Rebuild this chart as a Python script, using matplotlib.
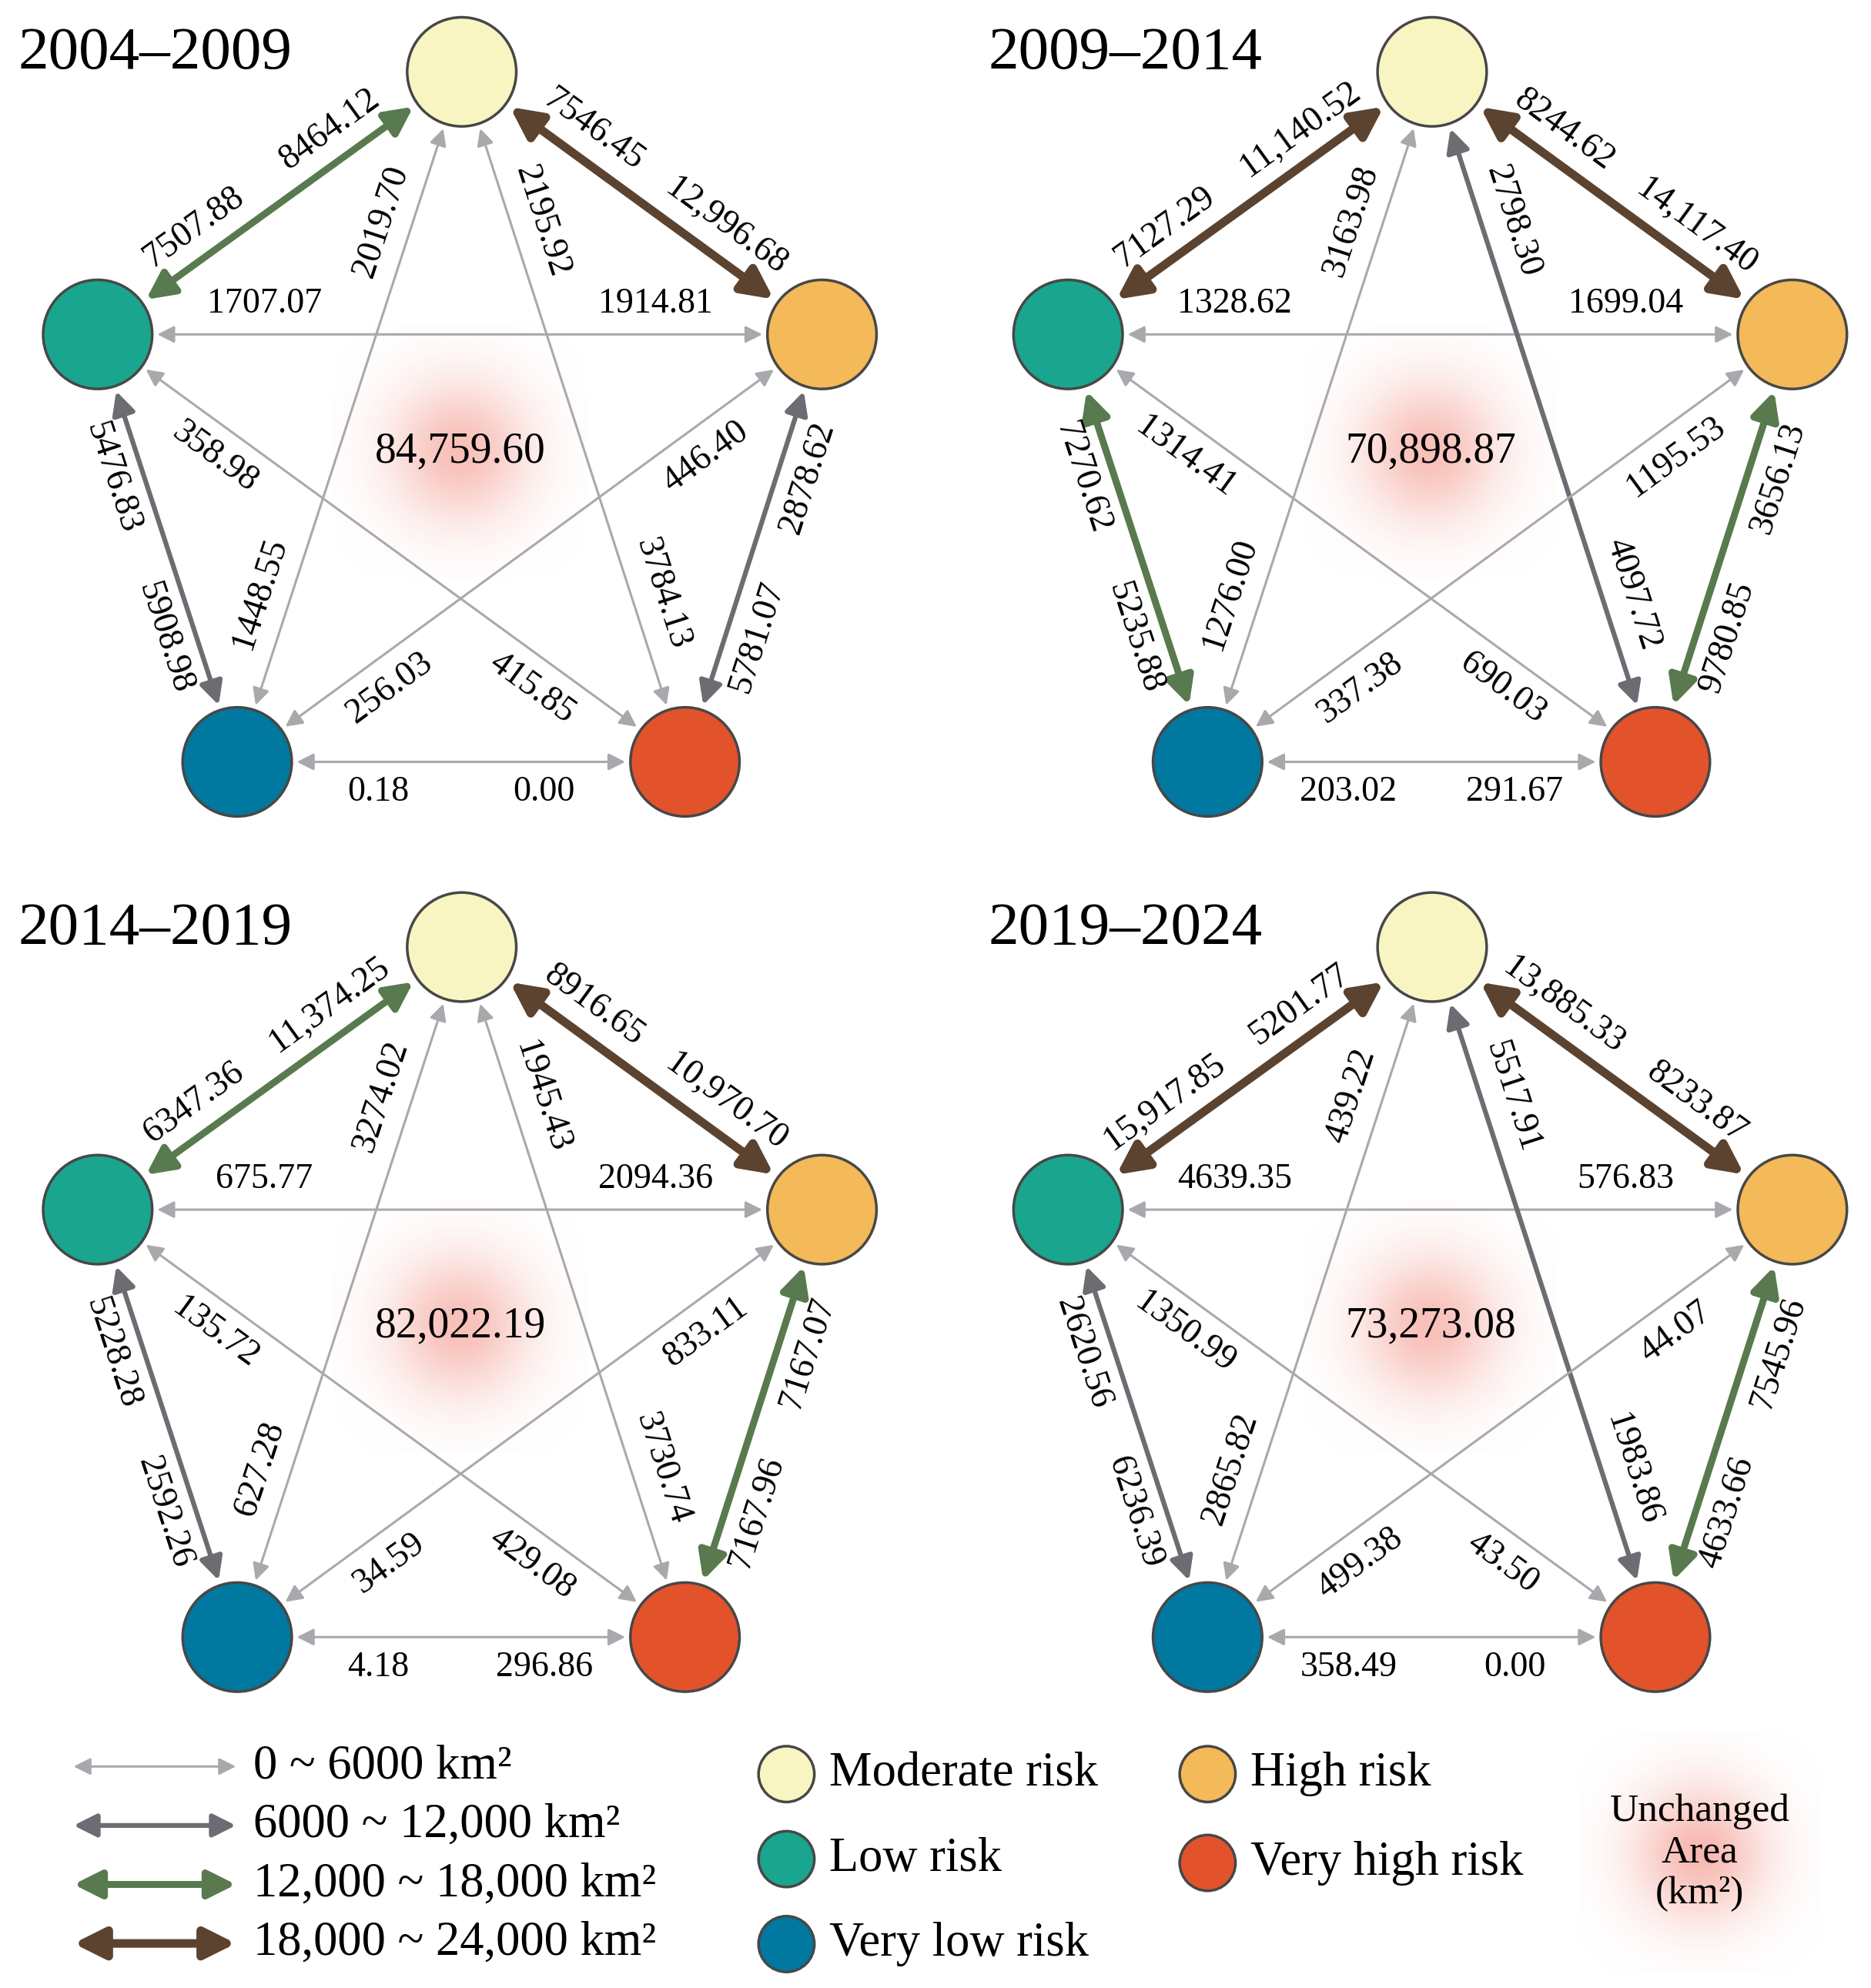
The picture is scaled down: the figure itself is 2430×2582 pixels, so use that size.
import math
import numpy as np
import matplotlib
matplotlib.use("Agg")
import matplotlib.pyplot as plt
from matplotlib.patches import Circle, FancyArrowPatch

plt.rcParams['font.family'] = ['Liberation Serif', 'DejaVu Serif']

periods = ["2004–2009", "2009–2014", "2014–2019", "2019–2024"]
unchanged = ["84,759.60", "70,898.87", "82,022.19", "73,273.08"]

# node pairs; first value sits near the first node, second near the second
pairs = [("low", "mod"), ("mod", "high"), ("low", "high"), ("low", "vlow"), ("high", "vh"),
         ("vlow", "vh"), ("mod", "vlow"), ("mod", "vh"), ("low", "vh"), ("high", "vlow")]
values = [
    [(7507.88, 8464.12), (7546.45, 12996.68), (1707.07, 1914.81), (5476.83, 5908.98), (2878.62, 5781.07),
     (0.18, 0.00), (2019.70, 1448.55), (2195.92, 3784.13), (358.98, 415.85), (446.40, 256.03)],
    [(7127.29, 11140.52), (8244.62, 14117.40), (1328.62, 1699.04), (7270.62, 5235.88), (3656.13, 9780.85),
     (203.02, 291.67), (3163.98, 1276.00), (2798.30, 4097.72), (1314.41, 690.03), (1195.53, 337.38)],
    [(6347.36, 11374.25), (8916.65, 10970.70), (675.77, 2094.36), (5228.28, 2592.26), (7167.07, 7167.96),
     (4.18, 296.86), (3274.02, 627.28), (1945.43, 3730.74), (135.72, 429.08), (833.11, 34.59)],
    [(15917.85, 5201.77), (13885.33, 8233.87), (4639.35, 576.83), (2620.56, 6236.39), (7545.96, 4633.66),
     (358.49, 0.00), (439.22, 2865.82), (5517.91, 1983.86), (1350.99, 43.50), (44.07, 499.38)],
]

node_pos = {"mod": (364, 56), "low": (77, 263), "high": (648, 263), "vlow": (187, 600), "vh": (540, 600)}
node_col = {"mod": "#f8f5c2", "low": "#1aa58f", "high": "#f4b958", "vlow": "#00789f", "vh": "#e2532c"}
offsets = [(0, 0), (765, 0), (0, 690), (765, 690)]
R = 43

# class styles: (color, linewidth, head scale)
styles = [("#a9a9ad", 2.2, 22), ("#6c6d73", 4.5, 30), ("#587a4e", 6.5, 36), ("#5b4330", 8.0, 40)]


def fmt(v):
    s = f"{v:,.2f}"
    if v < 10000:
        s = s.replace(",", "")
    return s


def style_for(total):
    return styles[min(int(total // 6000), 3)]


def glow(ax, cx, cy, rx, ry, strength=0.55):
    n = 200
    xs = np.linspace(-1, 1, n)
    X, Y = np.meshgrid(xs, xs)
    d = np.sqrt(X**2 + Y**2)
    a = np.clip(np.exp(-(d / 0.55) ** 2) * strength, 0, 1)
    img = np.zeros((n, n, 4))
    img[..., 0] = 0.95
    img[..., 1] = 0.55
    img[..., 2] = 0.50
    img[..., 3] = a
    ax.imshow(img, extent=(cx - rx, cx + rx, cy + ry, cy - ry), zorder=0, interpolation="bilinear")


def double_arrow(ax, p1, p2, st, gap=4):
    (x1, y1), (x2, y2) = p1, p2
    L = math.hypot(x2 - x1, y2 - y1)
    ux, uy = (x2 - x1) / L, (y2 - y1) / L
    a = (x1 + ux * (R + gap), y1 + uy * (R + gap))
    b = (x2 - ux * (R + gap), y2 - uy * (R + gap))
    col, lw, ms = st
    ax.add_patch(FancyArrowPatch(a, b, arrowstyle="<|-|>,head_length=0.6,head_width=0.3",
                                 mutation_scale=ms, color=col, lw=lw, zorder=2,
                                 shrinkA=0, shrinkB=0))


fig = plt.figure(figsize=(24.3, 25.82), dpi=100)
ax = fig.add_axes([0, 0, 1, 1])
ax.set_xlim(0, 1475)
ax.set_ylim(1566, 0)
ax.axis("off")

for k in range(4):
    ox, oy = offsets[k]
    P = {n: (x + ox, y + oy) for n, (x, y) in node_pos.items()}
    cx, cy = 364 + ox, 380 + oy
    glow(ax, cx - 2, cy - 25, 100, 100)
    ax.text(cx - 1, cy - 25, unchanged[k], fontsize=40, ha="center", va="center", zorder=5)
    ax.text(14 + ox, 42 + oy, periods[k], fontsize=57, ha="left", va="center", zorder=5)
    for (na, nb), (va, vb) in zip(pairs, values[k]):
        pa, pb = P[na], P[nb]
        double_arrow(ax, pa, pb, style_for(va + vb))
        dx, dy = pb[0] - pa[0], pb[1] - pa[1]
        L = math.hypot(dx, dy)
        nx, ny = -dy / L, dx / L
        mx, my = (pa[0] + pb[0]) / 2, (pa[1] + pb[1]) / 2
        if (cx - mx) * nx + (cy - my) * ny > 0:
            nx, ny = -nx, -ny
        ang = math.degrees(math.atan2(-dy, dx))
        if ang > 90:
            ang -= 180
        elif ang <= -90:
            ang += 180
        dist = max(0.23 * L, R + 68)
        for d, v in ((dist, va), (L - dist, vb)):
            tx = pa[0] + dx / L * d + nx * 24
            ty = pa[1] + dy / L * d + ny * 24
            ax.text(tx, ty, fmt(v), fontsize=33, rotation=ang, rotation_mode="anchor",
                    ha="center", va="center", zorder=5)
    for n, p in P.items():
        ax.add_patch(Circle(p, R, fc=node_col[n], ec="#474747", lw=2.5, zorder=4))

# legend: arrow classes
leg_labels = ["0 ~ 6000 km²", "6000 ~ 12,000 km²", "12,000 ~ 18,000 km²", "18,000 ~ 24,000 km²"]
for i, (lab, st) in enumerate(zip(leg_labels, styles)):
    y = 1392 + i * 46.5
    col, lw, ms = st
    ax.add_patch(FancyArrowPatch((58, y), (186, y), arrowstyle="<|-|>,head_length=0.6,head_width=0.3",
                                 mutation_scale=ms, color=col, lw=lw, shrinkA=0, shrinkB=0))
    ax.text(200, y, lab, fontsize=45, ha="left", va="center")

# legend: nodes
leg_nodes = [("mod", "Moderate risk", 620, 1398), ("low", "Low risk", 620, 1465),
             ("vlow", "Very low risk", 620, 1532), ("high", "High risk", 952, 1398),
             ("vh", "Very high risk", 952, 1468)]
for n, lab, x, y in leg_nodes:
    ax.add_patch(Circle((x, y), 22, fc=node_col[n], ec="#474747", lw=2.5, zorder=4))
    ax.text(x + 34, y, lab, fontsize=45, ha="left", va="center")

glow(ax, 1340, 1460, 95, 95, 0.6)
ax.text(1340, 1460, "Unchanged\nArea\n(km²)", fontsize=37, ha="center", va="center",
        linespacing=1.2, zorder=5)

fig.savefig("out.png", dpi=100)
